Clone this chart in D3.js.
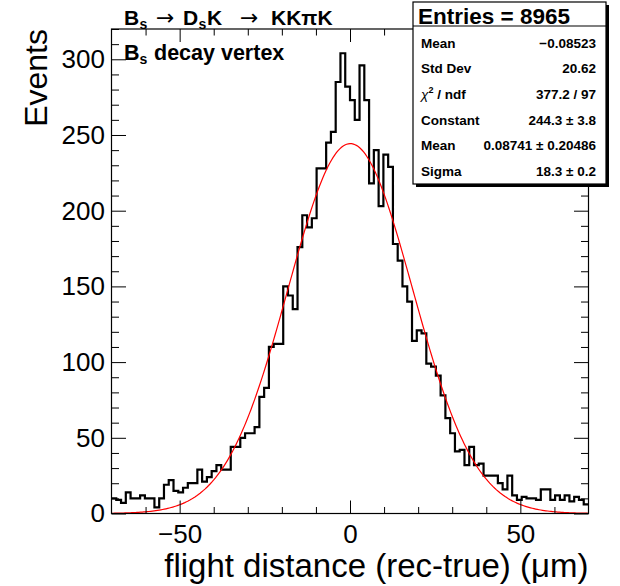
<!DOCTYPE html>
<html>
<head>
<meta charset="utf-8">
<script src="https://cdn.jsdelivr.net/npm/d3@7"></script>
<style>
  body { margin: 0; background: #fff; }
  text { font-family: "Liberation Sans", Arial, Helvetica, sans-serif; }
</style>
</head>
<body>
<svg id="chart" width="620" height="586"></svg>
<script>
// histogram: 100 bins from -70 to 70 um, counts
const xMin = -70, xMax = 70;
const yMax = 320;
const counts = [
  10, 9, 7, 14, 10, 10, 12, 10, 10, 4,
  10, 19, 22, 15, 14, 17, 20, 20, 29, 21,
  24, 28, 32, 29, 29, 44, 44, 50, 53, 53,
  57, 77, 83, 110, 112, 112, 150, 144, 135, 176,
  197, 189, 195, 228, 228, 245, 252, 285, 304, 282,
  273, 260, 296, 273, 218, 240, 203, 237, 229, 178,
  167, 150, 140, 114, 121, 119, 99, 97, 91, 78,
  63, 53, 41, 42, 32, 44, 32, 33, 25, 25,
  25, 20, 16, 25, 12, 9, 11, 10, 10, 9,
  16, 16, 9, 12, 9, 12, 8, 11, 9, 6
];
const xMajorTicks = [-50, 0, 50];
const xMinorTicks = [-60, -40, -30, -20, -10, 10, 20, 30, 40, 60];
const yMajorTicks = [0, 50, 100, 150, 200, 250, 300];
const yMinorTicks = d3.range(0, 321, 10).filter(v => v % 50 !== 0);

// gaussian fit parameters from the stats box
const fitConstant = 244.3, fitMean = 0.08741, fitSigma = 18.3;

const entries = 8965;
const statNames = ["Mean", "Std Dev", "chi", "Constant", "Mean", "Sigma"];
const statValues = ["\u22120.08523", "20.62", "377.2 / 97", "244.3 \u00b1 3.8", "0.08741 \u00b1 0.20486", "18.3 \u00b1 0.2"];

const frame = { left: 111.5, right: 588.5, top: 29, bottom: 513.5 };

const svg = d3.select("#chart");

const x = d3.scaleLinear().domain([xMin, xMax]).range([frame.left, frame.right]);
const y = d3.scaleLinear().domain([0, yMax]).range([frame.bottom, frame.top]);

const binWidth = (xMax - xMin) / counts.length;

// histogram step line
let pts = [];
counts.forEach((c, i) => {
    let x0 = xMin + i * binWidth;
    pts.push([x(x0), y(c)]);
    pts.push([x(x0 + binWidth), y(c)]);
});

svg.append("path")
    .attr("d", d3.line()(pts))
    .attr("fill", "none")
    .attr("stroke", "#000")
    .attr("stroke-width", 2.2)
    .attr("stroke-linejoin", "miter");

// fit curve
let fitPts = d3.range(xMin, xMax + 0.001, 0.5).map(v =>
    [x(v), y(fitConstant * Math.exp(-0.5 * Math.pow((v - fitMean) / fitSigma, 2)))]);

svg.append("path")
    .attr("d", d3.line()(fitPts))
    .attr("fill", "none")
    .attr("stroke", "#ff0000")
    .attr("stroke-width", 1.2);

// axes, ticks drawn inside the frame
function styleAxis(g) {
    g.select(".domain").remove();
    g.selectAll(".tick line").attr("stroke", "#000").attr("stroke-width", 1);
    g.selectAll("text").attr("font-size", 26).attr("fill", "#000")
        .attr("font-family", "Liberation Sans, Arial, Helvetica, sans-serif");
}

svg.append("g")
    .attr("transform", `translate(0,${frame.bottom})`)
    .call(d3.axisBottom(x).tickValues(xMajorTicks).tickSizeInner(-13).tickSizeOuter(0).tickPadding(11))
    .call(styleAxis);
svg.append("g")
    .attr("transform", `translate(0,${frame.bottom})`)
    .call(d3.axisBottom(x).tickValues(xMinorTicks).tickSizeInner(-6.5).tickSizeOuter(0).tickFormat(""))
    .call(styleAxis);
svg.append("g")
    .attr("transform", `translate(0,${frame.top})`)
    .call(d3.axisTop(x).tickValues(xMajorTicks).tickSizeInner(-13).tickSizeOuter(0).tickFormat(""))
    .call(styleAxis);
svg.append("g")
    .attr("transform", `translate(0,${frame.top})`)
    .call(d3.axisTop(x).tickValues(xMinorTicks).tickSizeInner(-6.5).tickSizeOuter(0).tickFormat(""))
    .call(styleAxis);

svg.append("g")
    .attr("transform", `translate(${frame.left},0)`)
    .call(d3.axisLeft(y).tickValues(yMajorTicks).tickSizeInner(-14.5).tickSizeOuter(0).tickPadding(6.5))
    .call(styleAxis);
svg.append("g")
    .attr("transform", `translate(${frame.left},0)`)
    .call(d3.axisLeft(y).tickValues(yMinorTicks).tickSizeInner(-7.5).tickSizeOuter(0).tickFormat(""))
    .call(styleAxis);
svg.append("g")
    .attr("transform", `translate(${frame.right},0)`)
    .call(d3.axisRight(y).tickValues(yMajorTicks).tickSizeInner(-14.5).tickSizeOuter(0).tickFormat(""))
    .call(styleAxis);
svg.append("g")
    .attr("transform", `translate(${frame.right},0)`)
    .call(d3.axisRight(y).tickValues(yMinorTicks).tickSizeInner(-7.5).tickSizeOuter(0).tickFormat(""))
    .call(styleAxis);

// frame
svg.append("rect")
    .attr("x", frame.left).attr("y", frame.top)
    .attr("width", frame.right - frame.left).attr("height", frame.bottom - frame.top)
    .attr("fill", "none").attr("stroke", "#000").attr("stroke-width", 1.2);

// axis titles
svg.append("text")
    .attr("transform", `translate(47,${frame.top}) rotate(-90)`)
    .attr("text-anchor", "end")
    .attr("font-size", 32)
    .text("Events");

svg.append("text")
    .attr("x", frame.right).attr("y", 577)
    .attr("text-anchor", "end")
    .attr("font-size", 33)
    .text("flight distance (rec-true) (\u03bcm)");

// title
let title = svg.append("text").attr("y", 25).attr("font-size", 21).attr("font-weight", "bold");
title.append("tspan").attr("x", 124).text("B");
title.append("tspan").attr("x", 139.5).attr("dy", 4).attr("font-size", 14).text("s");
title.append("tspan").attr("x", 156).attr("dy", -4).attr("font-weight", "normal")
    .attr("font-family", "DejaVu Sans").attr("font-size", 22).text("\u2192");
title.append("tspan").attr("x", 183).text("D");
title.append("tspan").attr("x", 198.5).attr("dy", 4).attr("font-size", 14).text("s");
title.append("tspan").attr("x", 207).attr("dy", -4).text("K");
title.append("tspan").attr("x", 240).attr("font-weight", "normal")
    .attr("font-family", "DejaVu Sans").attr("font-size", 22).text("\u2192");
title.append("tspan").attr("x", 271).text("KK\u03c0K");

let label = svg.append("text").attr("y", 60).attr("font-size", 21.5).attr("font-weight", "bold");
label.append("tspan").attr("x", 124).text("B");
label.append("tspan").attr("x", 139.5).attr("dy", 4).attr("font-size", 14).text("s");
label.append("tspan").attr("x", 154).attr("dy", -4).text("decay vertex");

// stats box
const box = { x: 413, y: 2, w: 193, h: 182 };
svg.append("rect")
    .attr("x", box.x + 3).attr("y", box.y + 3).attr("width", box.w).attr("height", box.h)
    .attr("fill", "#000");
svg.append("rect")
    .attr("x", box.x).attr("y", box.y).attr("width", box.w).attr("height", box.h)
    .attr("fill", "#fff").attr("stroke", "#000").attr("stroke-width", 1.2);
svg.append("line")
    .attr("x1", box.x).attr("x2", box.x + box.w).attr("y1", 26).attr("y2", 26)
    .attr("stroke", "#000").attr("stroke-width", 1.2);

svg.append("text")
    .attr("x", 418).attr("y", 23.5)
    .attr("font-size", 22.5).attr("font-weight", "bold")
    .text(`Entries = ${entries}`);

statNames.forEach((name, i) => {
    let yy = 47.5 + i * 25.7;
    let t = svg.append("text").attr("x", 421).attr("y", yy)
        .attr("font-size", 13.5).attr("font-weight", "bold");
    if (name === "chi") {
        t.append("tspan").attr("font-weight", "normal").attr("font-style", "italic").text("\u03c7");
        t.append("tspan").attr("dy", -6).attr("font-size", 9).text("2");
        t.append("tspan").attr("dy", 6).text(" / ndf");
    } else {
        t.text(name);
    }
    svg.append("text").attr("x", 596).attr("y", yy)
        .attr("text-anchor", "end")
        .attr("font-size", 13.5).attr("font-weight", "bold")
        .text(statValues[i]);
});
</script>
</body>
</html>
